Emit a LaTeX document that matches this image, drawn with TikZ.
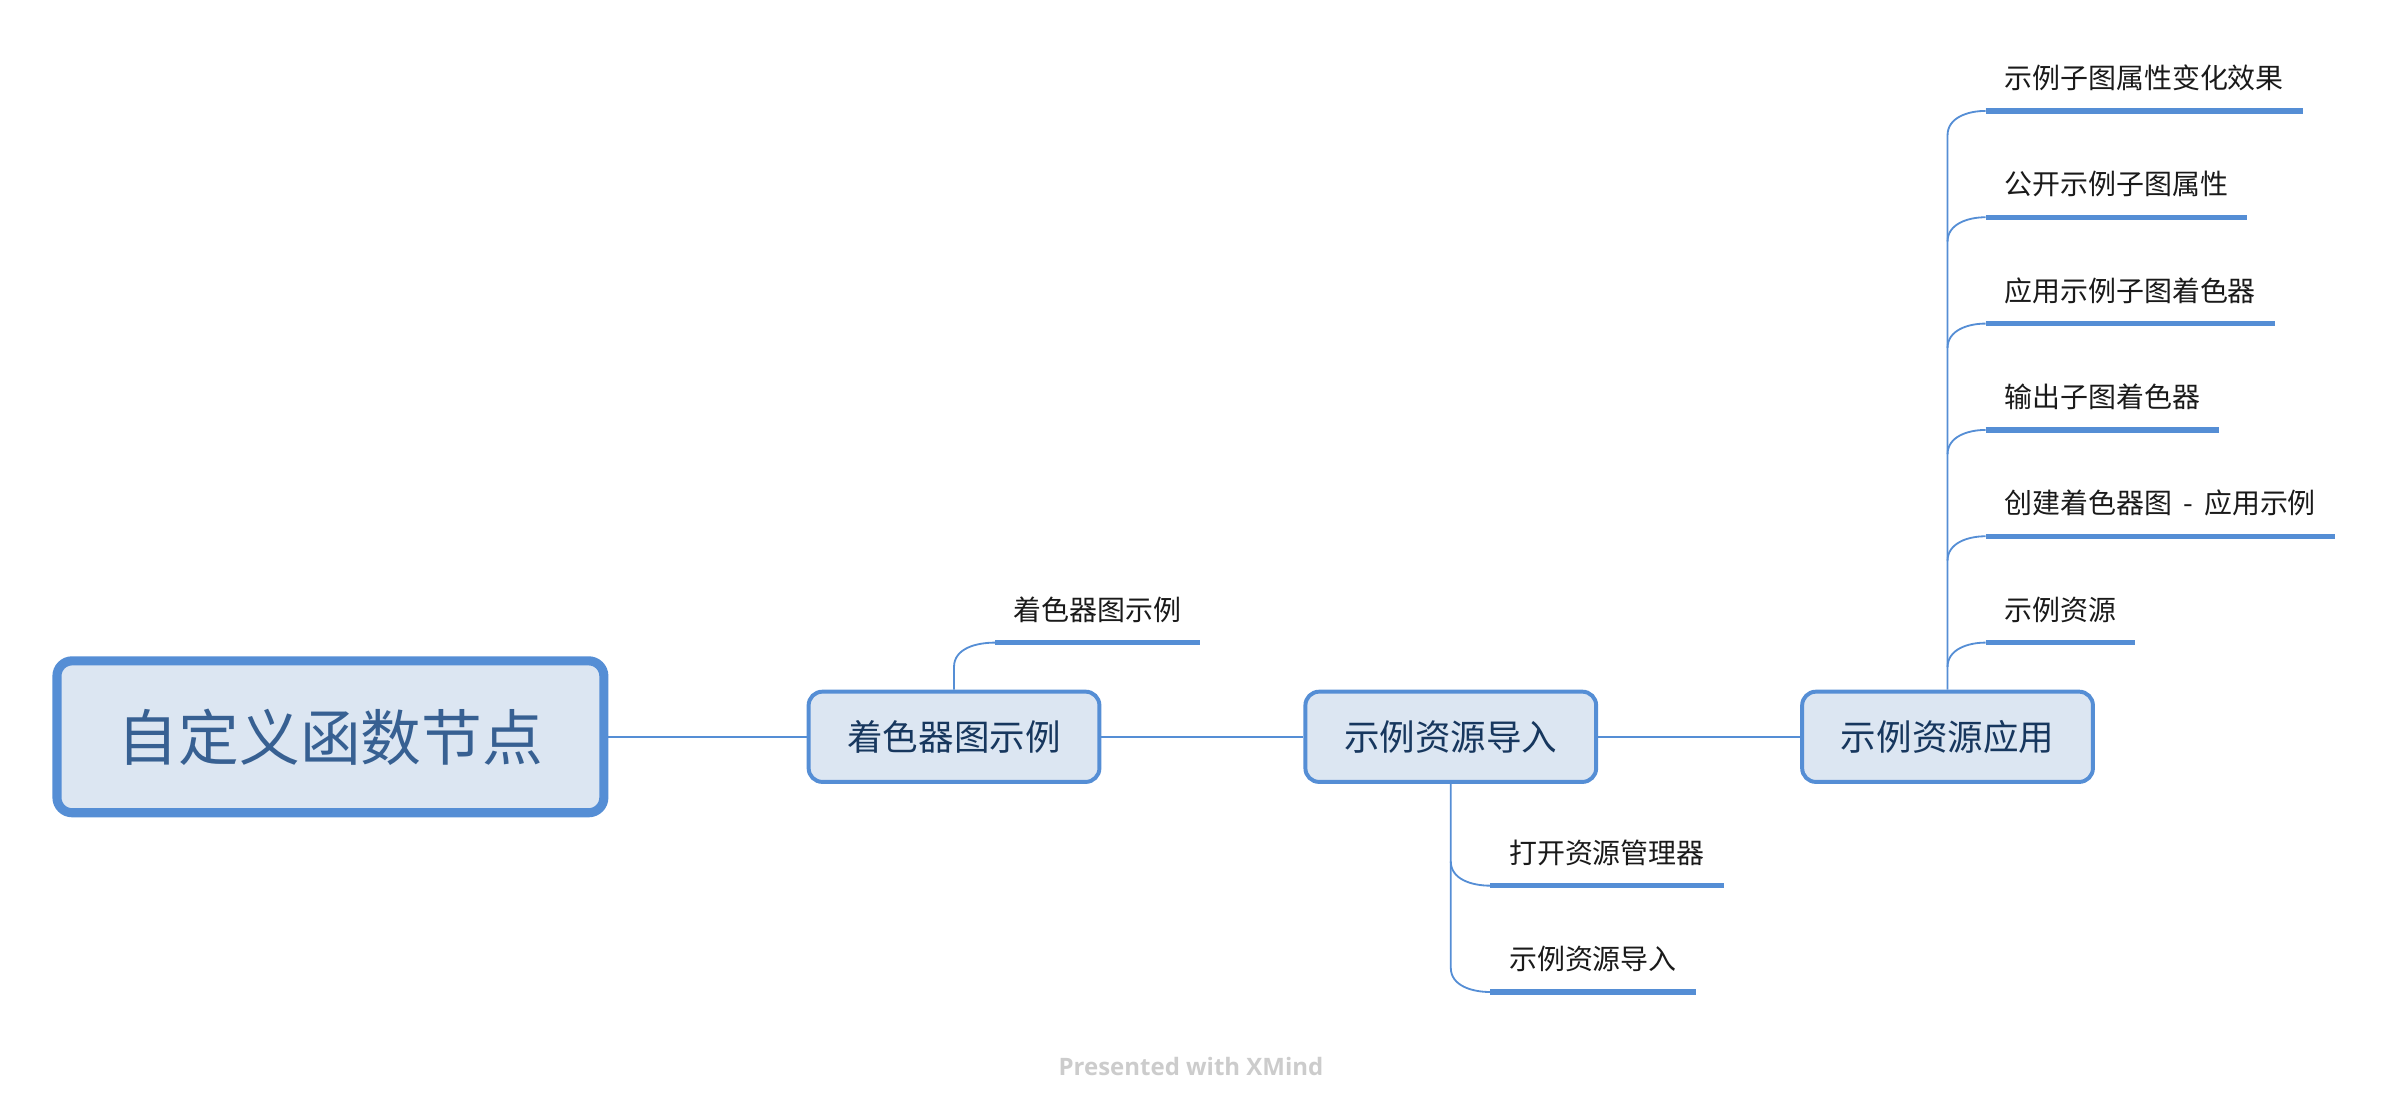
\documentclass[tikz,border=0pt]{standalone}
\usepackage{fontspec}
\newfontfamily\cjk{Noto Sans CJK SC}
\newfontfamily\credfont{Open Sans}
\usetikzlibrary{calc}
\definecolor{xblue}{HTML}{558ED5}
\definecolor{xfill}{HTML}{DCE6F2}
\definecolor{roottext}{HTML}{376092}
\definecolor{boxtext}{HTML}{17375E}
\definecolor{leaftext}{HTML}{1A1A1A}
\begin{document}
\begin{tikzpicture}[x=0.5pt,y=-0.5pt,
    rootbox/.style={draw=xblue,fill=xfill,line width=3pt,rounded corners=5pt,
        minimum width=180pt,minimum height=50pt,text=roottext,
        font=\cjk\fontsize{20pt}{24pt}\selectfont},
    topicbox/.style={draw=xblue,fill=xfill,line width=1.3pt,rounded corners=4.5pt,
        minimum width=95.7pt,minimum height=29.7pt,text=boxtext,
        font=\cjk\fontsize{11.7pt}{14pt}\selectfont},
    leaf/.style={anchor=south west,inner xsep=6pt,inner ysep=5.4pt,
        text height=7.4pt,text depth=1.8pt,text=leaftext,
        font=\cjk\fontsize{9.2pt}{11pt}\selectfont},
    uline/.style={draw=xblue,line width=1.8pt},
    link/.style={draw=xblue,line width=0.6pt},
    credit/.style={text=black!20,font=\credfont\bfseries\fontsize{7.9pt}{9pt}\selectfont}]
\useasboundingbox (0,0) rectangle (1568,735);
% main topics
\node[rootbox] (root) at (217.5,485) {自定义函数节点};
\node[topicbox] (b1) at (628,485) {着色器图示例};
\node[topicbox] (b2) at (955,485) {示例资源导入};
\node[topicbox] (b3) at (1282,485) {示例资源应用};
\draw[link] (root.east) -- (b1.west);
\draw[link] (b1.east) -- (b2.west);
\draw[link] (b2.east) -- (b3.west);
% subtopics of b1
\node[leaf] (c1) at (655,423) {着色器图示例};
\draw[uline] (c1.south west) -- (c1.south east);
\draw[link] (b1.north) -- ($(b1.north |- c1.south west)+(0,16)$) to[out=90,in=180] (c1.south west);
% subtopics of b2
\node[leaf] (d1) at (981,583) {打开资源管理器};
\node[leaf] (d2) at (981,653) {示例资源导入};
\foreach \n in {d1,d2}
    \draw[uline] (\n.south west) -- (\n.south east);
\draw[link] (b2.south) -- ($(b2.south |- d2.south west)+(0,-16)$) to[out=-90,in=180] (d2.south west);
\draw[link] ($(b2.south |- d1.south west)+(0,-16)$) to[out=-90,in=180] (d1.south west);
% subtopics of b3
\node[leaf] (a1) at (1307,73) {示例子图属性变化效果};
\node[leaf] (a2) at (1307,143) {公开示例子图属性};
\node[leaf] (a3) at (1307,213) {应用示例子图着色器};
\node[leaf] (a4) at (1307,283) {输出子图着色器};
\node[leaf] (a5) at (1307,353) {创建着色器图\hspace{0.4em}-\hspace{0.4em}应用示例};
\node[leaf] (a6) at (1307,423) {示例资源};
\foreach \n in {a1,a2,a3,a4,a5,a6}
    \draw[uline] (\n.south west) -- (\n.south east);
\draw[link] (b3.north) -- ($(b3.north |- a1.south west)+(0,16)$) to[out=90,in=180] (a1.south west);
\foreach \n in {a2,a3,a4,a5,a6}
    \draw[link] ($(b3.north |- \n.south west)+(0,16)$) to[out=90,in=180] (\n.south west);
\node[credit] (cred) at (784,702) {Presented with XMind};
\end{tikzpicture}
\end{document}
